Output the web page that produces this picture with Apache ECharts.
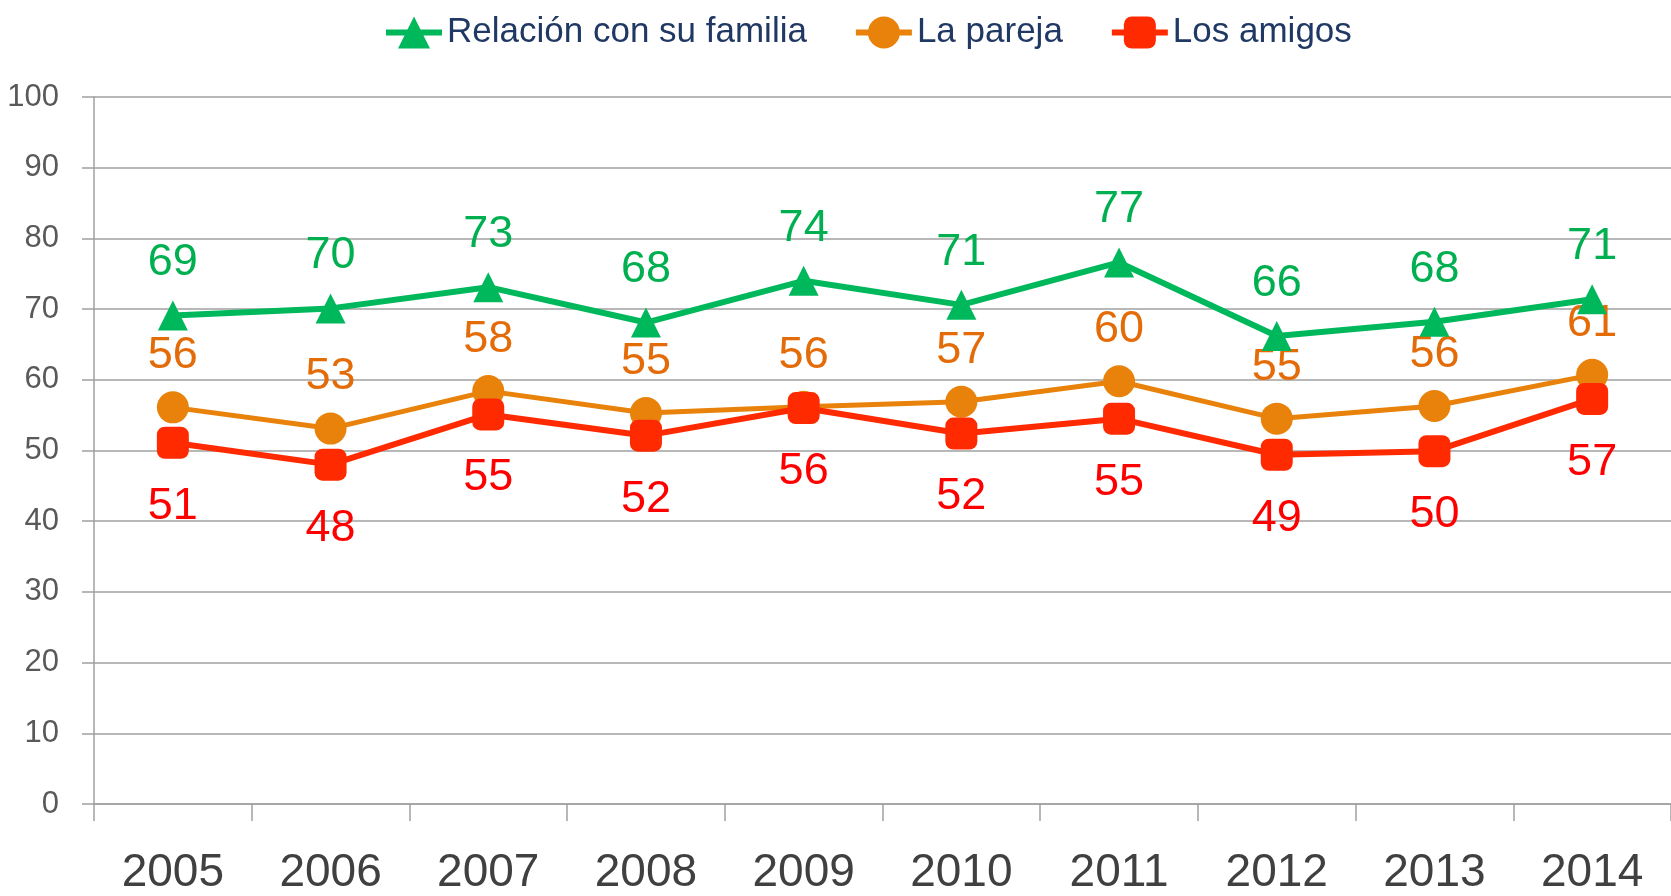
<!DOCTYPE html>
<html>
<head>
<meta charset="utf-8">
<script src="https://cdn.jsdelivr.net/npm/echarts@6/dist/echarts.min.js"></script>
<style>
html,body{margin:0;padding:0;background:#fff;}
#chart{width:1671px;height:896px;}
</style>
</head>
<body>
<div id="chart"></div>
<script>
const years = ['2005','2006','2007','2008','2009','2010','2011','2012','2013','2014'];
const familia = [69.1, 70.1, 73.1, 68.1, 74.0, 70.6, 76.6, 66.2, 68.2, 71.4];
const pareja = [56.1, 53.1, 58.4, 55.3, 56.2, 56.9, 59.8, 54.5, 56.3, 60.7];
const amigos = [51.1, 48.0, 55.1, 52.1, 56.0, 52.4, 54.5, 49.4, 49.9, 57.3];
const seriesNames = ['Relación con su familia', 'La pareja', 'Los amigos'];
const yTicks = [0, 10, 20, 30, 40, 50, 60, 70, 80, 90, 100];

const FONT = "'Liberation Sans Narrow', 'Arial Narrow', 'Liberation Sans', Arial, sans-serif";
const chart = echarts.init(document.getElementById('chart'), null, {renderer: 'canvas'});

function lbl(color, pos, dist) {
  return {
    show: true, position: pos, distance: dist,
    color: color, fontFamily: FONT, fontSize: 45, lineHeight: 45,
    formatter: p => Math.round(p.value)
  };
}

chart.setOption({
  animation: false,
  backgroundColor: '#fff',
  legend: {
    top: 10, left: 378,
    itemWidth: 56, itemHeight: 40, itemGap: 46,
    lineStyle: {width: 6},
    textStyle: {fontFamily: FONT, fontSize: 35, color: '#203864'},
    data: seriesNames
  },
  grid: {left: 94, width: 1588, top: 97, bottom: 91, containLabel: false},
  xAxis: {
    type: 'category', data: years, boundaryGap: true,
    axisLine: {show: true, lineStyle: {color: '#a0a0a0', width: 1.5}},
    axisTick: {show: true, length: 17, lineStyle: {color: '#a0a0a0', width: 1.5}},
    axisLabel: {fontFamily: FONT, fontSize: 46, lineHeight: 46, color: '#404040', margin: 46}
  },
  yAxis: {
    type: 'value', min: yTicks[0], max: yTicks[yTicks.length - 1], interval: 10,
    axisLine: {show: true, lineStyle: {color: '#a0a0a0', width: 1.5}},
    axisTick: {show: true, length: 12, lineStyle: {color: '#a0a0a0', width: 1.5}},
    splitLine: {show: true, lineStyle: {color: '#a0a0a0', width: 1.5}},
    axisLabel: {fontFamily: FONT, fontSize: 31, color: '#595959', margin: 35}
  },
  series: [
    {
      name: seriesNames[0], type: 'line', data: familia,
      symbol: 'triangle', symbolSize: 30,
      lineStyle: {color: '#00b85c', width: 6},
      itemStyle: {color: '#00b85c'},
      label: lbl('#00b050', 'top', 15), z: 3
    },
    {
      name: seriesNames[1], type: 'line', data: pareja,
      symbol: 'circle', symbolSize: 32,
      lineStyle: {color: '#e8820a', width: 5},
      itemStyle: {color: '#e8820a'},
      label: lbl('#e36c09', 'top', 13), z: 2
    },
    {
      name: seriesNames[2], type: 'line', data: amigos,
      symbol: 'roundRect', symbolSize: 32,
      lineStyle: {color: '#ff2a00', width: 6},
      itemStyle: {color: '#ff2a00'},
      label: lbl('#ff0000', 'bottom', 25), z: 2
    }
  ]
});
</script>
</body>
</html>
